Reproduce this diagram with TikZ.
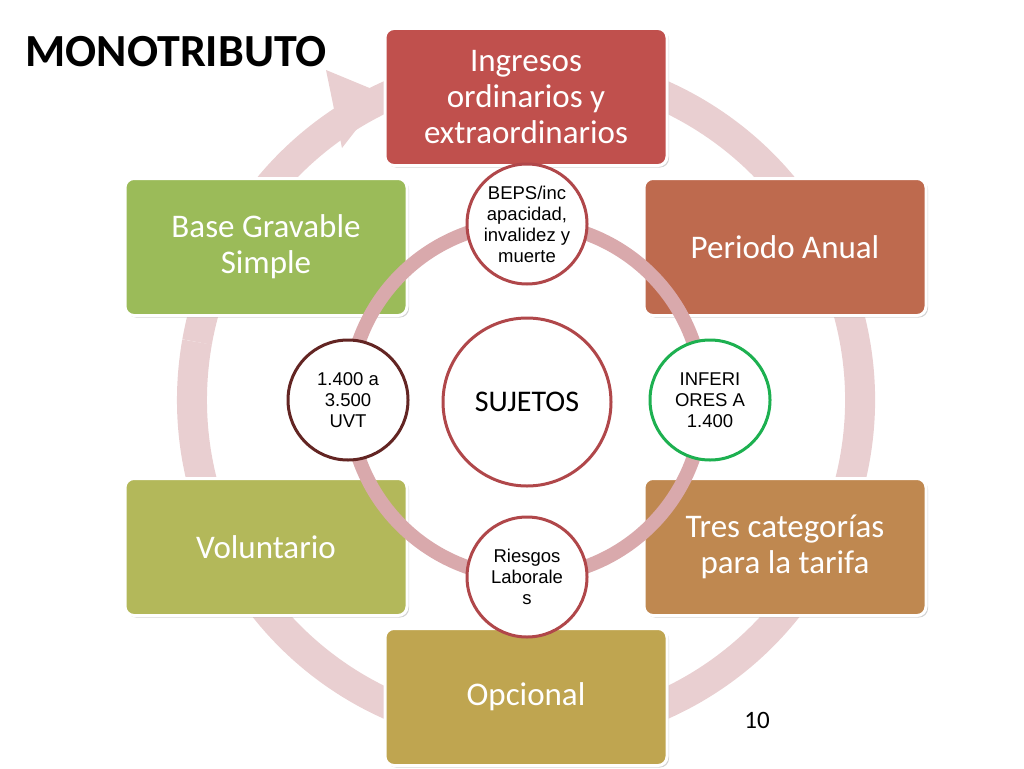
\documentclass[tikz,border=0pt]{standalone}
\usepackage{fontspec}
\setmainfont{Carlito}
\newfontfamily\arialf{Liberation Sans}
\usetikzlibrary{arrows.meta,shadows}
\definecolor{ringc}{HTML}{E9CFD1}
\definecolor{innerc}{HTML}{D9A9AC}
\definecolor{c1}{HTML}{C0504D}
\definecolor{c2}{HTML}{BE6A4E}
\definecolor{c3}{HTML}{BF8850}
\definecolor{c4}{HTML}{BFA550}
\definecolor{c5}{HTML}{B3B85A}
\definecolor{c6}{HTML}{9BBB59}
\definecolor{redb}{HTML}{B0474A}
\definecolor{greenb}{HTML}{1DB050}
\definecolor{brownb}{HTML}{632523}
\tikzset{
 box/.style={draw=white,line width=3pt,rounded corners=9pt,minimum width=282pt,minimum height=137pt,text=white,align=center,font=\fontsize{33}{36}\selectfont,drop shadow={shadow xshift=2pt,shadow yshift=-2pt,opacity=0.35}},
 sc/.style={circle,draw=redb,line width=3pt,fill=white,minimum size=120pt,align=center,inner sep=0pt,font=\arialf\fontsize{18.5}{21}\selectfont}
}
\begin{document}
\begin{tikzpicture}[x=1pt,y=-1pt]
\useasboundingbox (0,0) rectangle (1024,768);
\coordinate (cen) at (526,400);
\draw[ringc,line width=30pt] (cen) ++(-170:334) arc[start angle=-170,end angle=-250,radius=334] coordinate (ae);
\draw[ringc,line width=30pt] (cen) ++(-290:334) arc[start angle=-290,end angle=-530,radius=334];
\fill[ringc] (384,94) -- (326,70) -- (342,148) -- cycle;
\node[box,fill=c1] (b1) at (526,97) {Ingresos\\ordinarios y\\extraordinarios};
\node[box,fill=c2] (b2) at (785,247) {Periodo Anual};
\node[box,fill=c3] (b3) at (785,547) {Tres categorías\\para la tarifa};
\node[box,fill=c4] (b4) at (526,697) {Opcional};
\node[box,fill=c5] (b5) at (266,547) {Voluntario};
\node[box,fill=c6] (b6) at (266,247) {Base Gravable\\Simple};
\draw[innerc,line width=14pt] (cen) circle[radius=177];
\node[sc,minimum size=168pt,font=\fontsize{30}{34}\selectfont] (s) at (527,402) {SUJETOS};
\node[sc] (c1n) at (527,224) {BEPS/inc\\apacidad,\\invalidez y\\muerte};
\node[sc,draw=greenb] (c2n) at (710,400) {INFERI\\ORES A\\1.400};
\node[sc] (c3n) at (527,577) {Riesgos\\Laborale\\s};
\node[sc,draw=brownb] (c4n) at (348,400) {1.400 a\\3.500\\UVT};
\node[anchor=west,font=\bfseries\fontsize{46}{50}\selectfont] (t) at (22,52) {MONOTRIBUTO};
\node[font=\fontsize{25}{28}\selectfont] (p) at (757,720) {10};
\end{tikzpicture}
\end{document}
